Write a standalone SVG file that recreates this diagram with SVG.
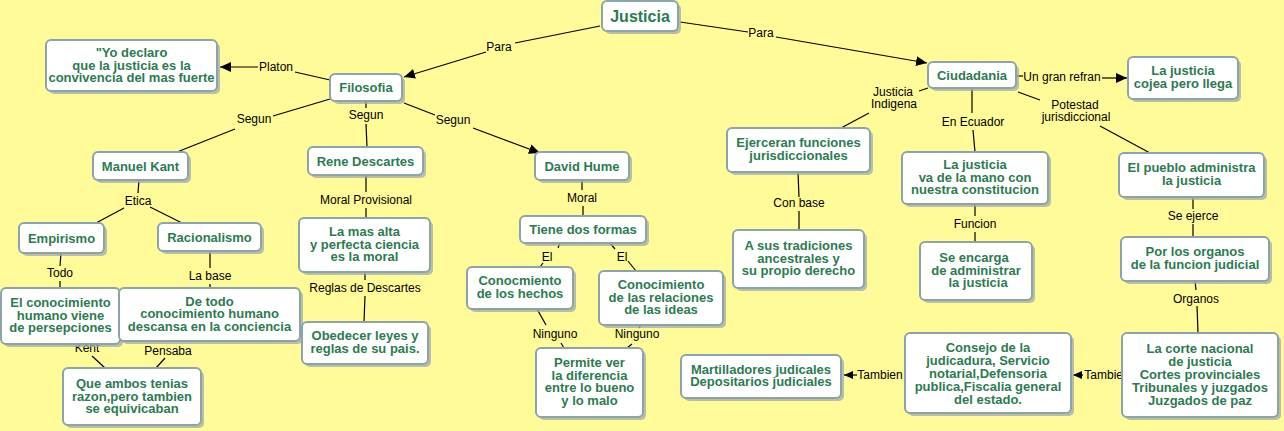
<svg xmlns="http://www.w3.org/2000/svg" width="1284" height="431" viewBox="0 0 1284 431">
<style>
.bg{fill:#FFFB98}
.sh{fill:#A3A9A8;opacity:0.75}
.box{fill:#FFFFFF;stroke:#8BA4AC;stroke-width:2}
.nt{font-family:"Liberation Sans",Arial,sans-serif;font-size:13px;font-weight:bold;fill:#2B7B50;text-anchor:middle}
.big{font-size:16px}
.ln{fill:none;stroke:#000000;stroke-width:1.2}
.lb{font-family:"Liberation Sans",Arial,sans-serif;font-size:12px;fill:#000000;text-anchor:middle}
</style>
<defs>
<marker id="ar" markerUnits="userSpaceOnUse" markerWidth="12" markerHeight="10" refX="11" refY="5" orient="auto">
<path d="M0,0 L11,5 L0,10 z" fill="#000000"/>
</marker>
<marker id="ars" markerUnits="userSpaceOnUse" markerWidth="10" markerHeight="8" refX="9" refY="4" orient="auto">
<path d="M0,0 L9,4 L0,8 z" fill="#000000"/>
</marker>
</defs>
<rect class="bg" x="0" y="0" width="1284" height="431"/>

<g id="connectors">
<path class="ln" d="M600,26 L515,43"/>
<path class="ln" d="M486,52 L404,77" marker-end="url(#ar)"/>
<path class="ln" d="M680,22 L748,32"/>
<path class="ln" d="M776,37 L927,63" marker-end="url(#ar)"/>
<path class="ln" d="M330,80 L295,72"/>
<path class="ln" d="M258,67 L220,67" marker-end="url(#ar)"/>
<path class="ln" d="M330,99 L273,116"/>
<path class="ln" d="M235,129 L177,152"/>
<path class="ln" d="M366,102 L366,108"/>
<path class="ln" d="M366,124 L367,147"/>
<path class="ln" d="M404,103 L435,115"/>
<path class="ln" d="M473,128 L540,153" marker-end="url(#ar)"/>
<path class="ln" d="M139,180 L138,193"/>
<path class="ln" d="M124,208 L96,223"/>
<path class="ln" d="M150,207 L182,223"/>
<path class="ln" d="M61,253 L60,266"/>
<path class="ln" d="M60,281 L60,288"/>
<path class="ln" d="M210,251 L210,268"/>
<path class="ln" d="M210,284 L210,288"/>
<path class="ln" d="M366,175 L366,192"/>
<path class="ln" d="M366,208 L366,218"/>
<path class="ln" d="M365,272 L365,280"/>
<path class="ln" d="M365,296 L364,322"/>
<path class="ln" d="M92,356 L105,368"/>
<path class="ln" d="M165,358 L156,368"/>
<path class="ln" d="M582,180 L582,190"/>
<path class="ln" d="M583,206 L583,216"/>
<path class="ln" d="M560,243 L558,248"/>
<path class="ln" d="M543,263 L540,267"/>
<path class="ln" d="M610,243 L615,249"/>
<path class="ln" d="M628,261 L636,271"/>
<path class="ln" d="M537,309 L546,325"/>
<path class="ln" d="M561,343 L564,348"/>
<path class="ln" d="M641,325 L639,328"/>
<path class="ln" d="M632,344 L627,348"/>
<path class="ln" d="M1016,76 L1023,76"/>
<path class="ln" d="M1102,78 L1127,78" marker-end="url(#ar)"/>
<path class="ln" d="M928,88 L919,91"/>
<path class="ln" d="M869,113 L841,128"/>
<path class="ln" d="M972,88 L972,113"/>
<path class="ln" d="M973,130 L975,152"/>
<path class="ln" d="M1018,92 L1040,100"/>
<path class="ln" d="M1100,126 L1150,153"/>
<path class="ln" d="M798,172 L799,197"/>
<path class="ln" d="M799,211 L799,230"/>
<path class="ln" d="M975,204 L975,216"/>
<path class="ln" d="M975,232 L975,242"/>
<path class="ln" d="M1193,197 L1193,209"/>
<path class="ln" d="M1193,224 L1193,237"/>
<path class="ln" d="M1195,281 L1196,290"/>
<path class="ln" d="M1197,306 L1198,333"/>
<path class="ln" d="M1083,375 L1073,375" marker-end="url(#ars)"/>
<path class="ln" d="M857,375 L844,375" marker-end="url(#ars)"/>
</g>

<g id="labels">
<text class="lb" x="499" y="51">Para</text>
<text class="lb" x="761" y="37">Para</text>
<text class="lb" x="276" y="71">Platon</text>
<text class="lb" x="254" y="123">Segun</text>
<text class="lb" x="366" y="119">Segun</text>
<text class="lb" x="453" y="124">Segun</text>
<text class="lb" x="138" y="205">Etica</text>
<text class="lb" x="60" y="277">Todo</text>
<text class="lb" x="210" y="280">La base</text>
<text class="lb" x="366" y="204">Moral Provisional</text>
<text class="lb" x="365" y="292">Reglas de Descartes</text>
<text class="lb" x="87" y="352">Kent</text>
<text class="lb" x="168" y="355">Pensaba</text>
<text class="lb" x="582" y="202">Moral</text>
<text class="lb" x="547" y="261">El</text>
<text class="lb" x="622" y="261">El</text>
<text class="lb" x="555" y="338">Ninguno</text>
<text class="lb" x="637" y="338">Ninguno</text>
<text class="lb" x="1062" y="81">Un gran refran</text>
<text class="lb" x="893" y="96">Justicia</text>
<text class="lb" x="894" y="108">Indigena</text>
<text class="lb" x="973" y="126">En Ecuador</text>
<text class="lb" x="1075" y="109">Potestad</text>
<text class="lb" x="1076" y="121">jurisdiccional</text>
<text class="lb" x="799" y="207">Con base</text>
<text class="lb" x="975" y="228">Funcion</text>
<text class="lb" x="1193" y="220">Se ejerce</text>
<text class="lb" x="1196" y="303">Organos</text>
<text class="lb" x="1107" y="379">Tambien</text>
<text class="lb" x="880" y="379">Tambien</text>
</g>

<g id="n-justicia"><rect class="sh" x="605" y="4" width="76" height="30" rx="5"/><rect class="box" x="602" y="1" width="76" height="30" rx="5"/><text class="nt big" x="640" y="21.5">Justicia</text></g>
<g id="n-filosofia"><rect class="sh" x="333" y="77" width="72" height="27" rx="5"/><rect class="box" x="330" y="74" width="72" height="27" rx="5"/><text class="nt" x="366" y="92">Filosofia</text></g>
<g id="n-yodeclaro"><rect class="sh" x="49" y="43" width="171" height="51" rx="5"/><rect class="box" x="46" y="40" width="171" height="51" rx="5"/><text class="nt"><tspan x="131.5" y="57">"Yo declaro</tspan><tspan x="131.5" y="69.5">que la justicia es la</tspan><tspan x="131.5" y="82">convivencia del mas fuerte</tspan></text></g>
<g id="n-kant"><rect class="sh" x="96" y="155" width="95" height="28" rx="5"/><rect class="box" x="93" y="152" width="95" height="28" rx="5"/><text class="nt" x="140.5" y="170.5">Manuel Kant</text></g>
<g id="n-descartes"><rect class="sh" x="311" y="150" width="115" height="28" rx="5"/><rect class="box" x="308" y="147" width="115" height="28" rx="5"/><text class="nt" x="365.5" y="165.5">Rene Descartes</text></g>
<g id="n-hume"><rect class="sh" x="538" y="155" width="94" height="28" rx="5"/><rect class="box" x="535" y="152" width="94" height="28" rx="5"/><text class="nt" x="582" y="170.5">David Hume</text></g>
<g id="n-ciudadania"><rect class="sh" x="931" y="65" width="88" height="26" rx="5"/><rect class="box" x="928" y="62" width="88" height="26" rx="5"/><text class="nt" x="972" y="79.5">Ciudadania</text></g>
<g id="n-cojea"><rect class="sh" x="1131" y="60" width="110" height="42" rx="5"/><rect class="box" x="1128" y="57" width="110" height="42" rx="5"/><text class="nt"><tspan x="1183" y="75">La justicia</tspan><tspan x="1183" y="87.5">cojea pero llega</tspan></text></g>
<g id="n-ejerceran"><rect class="sh" x="730" y="131" width="143" height="44" rx="5"/><rect class="box" x="727" y="128" width="143" height="44" rx="5"/><text class="nt"><tspan x="798.5" y="147">Ejerceran funciones</tspan><tspan x="798.5" y="159.5">jurisdiccionales</tspan></text></g>
<g id="n-mano"><rect class="sh" x="905" y="155" width="146" height="52" rx="5"/><rect class="box" x="902" y="152" width="146" height="52" rx="5"/><text class="nt"><tspan x="975" y="169">La justicia</tspan><tspan x="975" y="181.5">va de la mano con</tspan><tspan x="975" y="194">nuestra constitucion</tspan></text></g>
<g id="n-pueblo"><rect class="sh" x="1122" y="156" width="145" height="44" rx="5"/><rect class="box" x="1119" y="153" width="145" height="44" rx="5"/><text class="nt"><tspan x="1191.5" y="172">El pueblo administra</tspan><tspan x="1191.5" y="184.5">la justicia</tspan></text></g>
<g id="n-empirismo"><rect class="sh" x="22" y="226" width="85" height="30" rx="5"/><rect class="box" x="19" y="223" width="85" height="30" rx="5"/><text class="nt" x="61.5" y="242.5">Empirismo</text></g>
<g id="n-racionalismo"><rect class="sh" x="161" y="226" width="103" height="28" rx="5"/><rect class="box" x="158" y="223" width="103" height="28" rx="5"/><text class="nt" x="209.5" y="241.5">Racionalismo</text></g>
<g id="n-masalta"><rect class="sh" x="302" y="221" width="131" height="54" rx="5"/><rect class="box" x="299" y="218" width="131" height="54" rx="5"/><text class="nt"><tspan x="364.5" y="236">La mas alta</tspan><tspan x="364.5" y="248.5">y perfecta ciencia</tspan><tspan x="364.5" y="261">es la moral</tspan></text></g>
<g id="n-conocimiento"><rect class="sh" x="4" y="291" width="119" height="56" rx="5"/><rect class="box" x="1" y="288" width="119" height="56" rx="5"/><text class="nt"><tspan x="60.5" y="307">El conocimiento</tspan><tspan x="60.5" y="319.5">humano viene</tspan><tspan x="60.5" y="332">de persepciones</tspan></text></g>
<g id="n-detodo"><rect class="sh" x="122" y="291" width="181" height="53" rx="5"/><rect class="box" x="119" y="288" width="181" height="53" rx="5"/><text class="nt"><tspan x="209.5" y="305.5">De todo</tspan><tspan x="209.5" y="318">conocimiento humano</tspan><tspan x="209.5" y="330.5">descansa en la conciencia</tspan></text></g>
<g id="n-obedecer"><rect class="sh" x="305" y="325" width="126" height="42" rx="5"/><rect class="box" x="302" y="322" width="126" height="42" rx="5"/><text class="nt"><tspan x="365" y="340">Obedecer leyes y</tspan><tspan x="365" y="352.5">reglas de su pais.</tspan></text></g>
<g id="n-ambos"><rect class="sh" x="66" y="371" width="138" height="57" rx="5"/><rect class="box" x="63" y="368" width="138" height="57" rx="5"/><text class="nt"><tspan x="132" y="388">Que ambos tenias</tspan><tspan x="132" y="400.5">razon,pero tambien</tspan><tspan x="132" y="413">se equivicaban</tspan></text></g>
<g id="n-tiene"><rect class="sh" x="523" y="219" width="126" height="27" rx="5"/><rect class="box" x="520" y="216" width="126" height="27" rx="5"/><text class="nt" x="583" y="234">Tiene dos formas</text></g>
<g id="n-hechos"><rect class="sh" x="470" y="270" width="106" height="42" rx="5"/><rect class="box" x="467" y="267" width="106" height="42" rx="5"/><text class="nt"><tspan x="520" y="285">Conocmiento</tspan><tspan x="520" y="297.5">de los hechos</tspan></text></g>
<g id="n-relaciones"><rect class="sh" x="602" y="274" width="124" height="54" rx="5"/><rect class="box" x="599" y="271" width="124" height="54" rx="5"/><text class="nt"><tspan x="661" y="289">Conocimiento</tspan><tspan x="661" y="301.5">de las relaciones</tspan><tspan x="661" y="314">de las ideas</tspan></text></g>
<g id="n-permite"><rect class="sh" x="539" y="351" width="107" height="69" rx="5"/><rect class="box" x="536" y="348" width="107" height="69" rx="5"/><text class="nt"><tspan x="589.5" y="367">Permite ver</tspan><tspan x="589.5" y="379.5">la diferencia</tspan><tspan x="589.5" y="392">entre lo bueno</tspan><tspan x="589.5" y="404.5">y lo malo</tspan></text></g>
<g id="n-tradiciones"><rect class="sh" x="736" y="233" width="131" height="58" rx="5"/><rect class="box" x="733" y="230" width="131" height="58" rx="5"/><text class="nt"><tspan x="798.5" y="250">A sus tradiciones</tspan><tspan x="798.5" y="262.5">ancestrales y</tspan><tspan x="798.5" y="275">su propio derecho</tspan></text></g>
<g id="n-martilladores"><rect class="sh" x="684" y="358" width="160" height="43" rx="5"/><rect class="box" x="681" y="355" width="160" height="43" rx="5"/><text class="nt"><tspan x="761" y="373.5">Martilladores judicales</tspan><tspan x="761" y="386">Depositarios judiciales</tspan></text></g>
<g id="n-encarga"><rect class="sh" x="923" y="245" width="112" height="58" rx="5"/><rect class="box" x="920" y="242" width="112" height="58" rx="5"/><text class="nt"><tspan x="974" y="262">Se encarga</tspan><tspan x="976" y="274.5">de administrar</tspan><tspan x="978" y="287">la justicia</tspan></text></g>
<g id="n-organos"><rect class="sh" x="1124" y="240" width="148" height="44" rx="5"/><rect class="box" x="1121" y="237" width="148" height="44" rx="5"/><text class="nt"><tspan x="1195" y="256">Por los organos</tspan><tspan x="1195" y="268.5">de la funcion judicial</tspan></text></g>
<g id="n-consejo"><rect class="sh" x="908" y="336" width="166" height="80" rx="5"/><rect class="box" x="905" y="333" width="166" height="80" rx="5"/><text class="nt"><tspan x="988" y="352">Consejo de la</tspan><tspan x="988" y="365">judicadura, Servicio</tspan><tspan x="988" y="378">notarial,Defensoria</tspan><tspan x="988" y="391">publica,Fiscalia general</tspan><tspan x="988" y="404">del estado.</tspan></text></g>
<g id="n-corte"><rect class="sh" x="1125" y="336" width="156" height="84" rx="5"/><rect class="box" x="1122" y="333" width="156" height="84" rx="5"/><text class="nt"><tspan x="1200" y="353">La corte nacional</tspan><tspan x="1200" y="366">de justicia</tspan><tspan x="1200" y="379">Cortes provinciales</tspan><tspan x="1200" y="392">Tribunales y juzgados</tspan><tspan x="1200" y="405">Juzgados de paz</tspan></text></g>
</svg>
